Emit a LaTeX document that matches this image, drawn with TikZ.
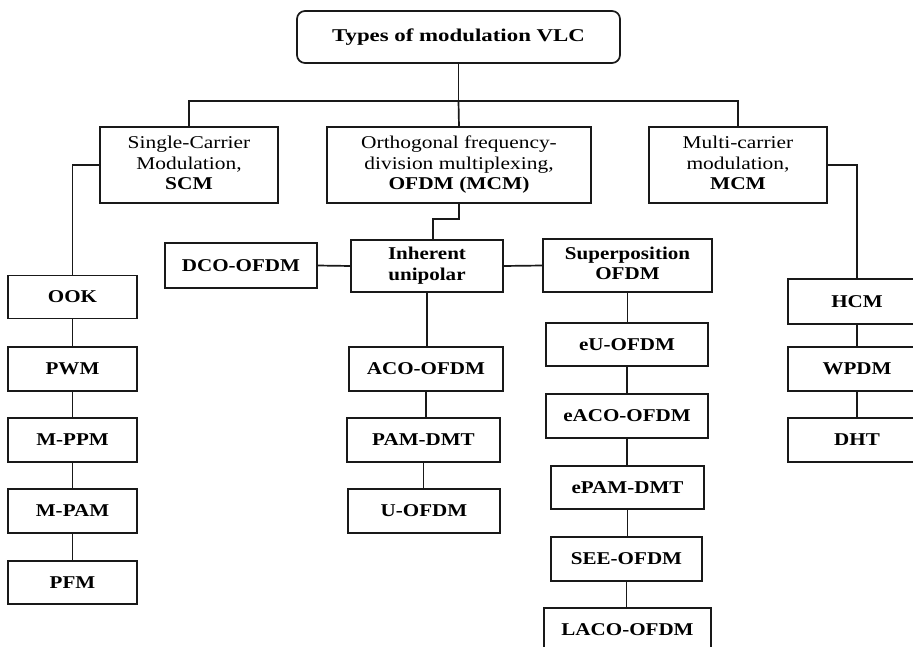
\documentclass[tikz,border=0pt]{standalone}
\usepackage{graphicx}
\usepackage{fontspec}
\setmainfont{Liberation Serif}
\newcommand\sxr[1]{\scalebox{1.19}[1]{#1}}
\newcommand\sxb[1]{\scalebox{1.17}[1]{\bfseries #1}}
\begin{document}
\begin{tikzpicture}[x=1pt,y=-1pt,
  bx/.style={draw=black!90, line width=1.7pt, inner sep=0pt, outer sep=0pt, align=center,
    font=\fontsize{18}{20.5}\selectfont},
  cn/.style={draw=black!90, line width=1.7pt}]
\clip (0,0) rectangle (913,647);
\fill[white] (0,0) rectangle (913,647);
% title
\node[bx, rounded corners=8pt, minimum width=323, minimum height=52] (title) at (458.5,37)
  {\scalebox{1.27}[1]{\bfseries Types of modulation VLC}};
% second level
\node[bx, minimum width=178, minimum height=76] (scm) at (189,165)
  {\sxr{\begin{tabular}{@{}c@{}}Single-Carrier\\Modulation,\\\textbf{SCM}\end{tabular}}};
\node[bx, minimum width=264, minimum height=76] (ofdm) at (459,165)
  {\sxr{\begin{tabular}{@{}c@{}}Orthogonal frequency-\\division multiplexing,\\\textbf{OFDM (MCM)}\end{tabular}}};
\node[bx, minimum width=178, minimum height=76] (mcm) at (738,165)
  {\sxr{\begin{tabular}{@{}c@{}}Multi-carrier\\modulation,\\\textbf{MCM}\end{tabular}}};
% OFDM branch
\node[bx, minimum width=152, minimum height=45] (dco) at (241,265.5) {\sxb{DCO-OFDM}};
\node[bx, minimum width=152, minimum height=52] (inh) at (427,266)
  {\sxb{\begin{tabular}{@{}c@{}}Inherent\\unipolar\end{tabular}}};
\node[bx, minimum width=169, minimum height=53] (sup) at (627.5,265.5)
  {\sxb{\begin{tabular}{@{}c@{}}Superposition\\OFDM\end{tabular}}};
\node[bx, minimum width=154, minimum height=44] (aco) at (426,369) {\sxb{ACO-OFDM}};
\node[bx, minimum width=153, minimum height=44] (pam) at (423.5,440) {\sxb{PAM-DMT}};
\node[bx, minimum width=152, minimum height=44] (uof) at (424,511) {\sxb{U-OFDM}};
\node[bx, minimum width=162, minimum height=43] (eu) at (627,344.5) {\sxb{eU-OFDM}};
\node[bx, minimum width=162, minimum height=44] (eaco) at (627,416) {\sxb{eACO-OFDM}};
\node[bx, minimum width=153, minimum height=43] (epam) at (627.5,487.5) {\sxb{ePAM-DMT}};
\node[bx, minimum width=151, minimum height=44] (see) at (626.5,559) {\sxb{SEE-OFDM}};
\node[bx, minimum width=167, minimum height=44] (laco) at (627.5,630) {\sxb{LACO-OFDM}};
% SCM branch
\node[bx, minimum width=129, minimum height=43] (ook) at (72.5,297) {\sxb{OOK}};
\node[bx, minimum width=129, minimum height=44] (pwm) at (72.5,369) {\sxb{PWM}};
\node[bx, minimum width=129, minimum height=44] (mppm) at (72.5,440) {\sxb{M-PPM}};
\node[bx, minimum width=129, minimum height=44] (mpam) at (72.5,511) {\sxb{M-PAM}};
\node[bx, minimum width=129, minimum height=43] (pfm) at (72.5,582.5) {\sxb{PFM}};
% MCM branch
\node[bx, minimum width=138, minimum height=45] (hcm) at (857,301.5) {\sxb{HCM}};
\node[bx, minimum width=138, minimum height=44] (wpdm) at (857,369) {\sxb{WPDM}};
\node[bx, minimum width=138, minimum height=44] (dht) at (857,440) {\sxb{DHT}};
% connectors
\coordinate (bar) at (458.5,101);
\draw[cn] (title.south) -- (bar);
\draw[cn] (scm.north) |- (bar) -| (mcm.north);
\draw[cn] (bar) -- (ofdm.north);
\draw[cn] (scm.west) -| (ook.north);
\draw[cn] (mcm.east) -| (hcm.north);
\coordinate (ofk) at (459,219);
\draw[cn] (ofdm.south) -- (ofk) -| ([xshift=6pt]inh.north);
\draw[cn] (dco.east) -- (inh.west);
\draw[cn] (inh.east) -- (sup.west);
\draw[cn] (inh.south) -- (inh.south |- aco.north);
\draw[cn] (aco.south) -- (aco.south |- pam.north);
\draw[cn] (pam.south) -- (pam.south |- uof.north);
\draw[cn] (sup.south) -- (sup.south |- eu.north);
\draw[cn] (eu.south) -- (eu.south |- eaco.north);
\draw[cn] (eaco.south) -- (eaco.south |- epam.north);
\draw[cn] (epam.south) -- (epam.south |- see.north);
\draw[cn] (see.south) -- (see.south |- laco.north);
\draw[cn] (ook.south) -- (pwm.north);
\draw[cn] (pwm.south) -- (mppm.north);
\draw[cn] (mppm.south) -- (mpam.north);
\draw[cn] (mpam.south) -- (pfm.north);
\draw[cn] (hcm.south) -- (wpdm.north);
\draw[cn] (wpdm.south) -- (dht.north);
\end{tikzpicture}
\end{document}
